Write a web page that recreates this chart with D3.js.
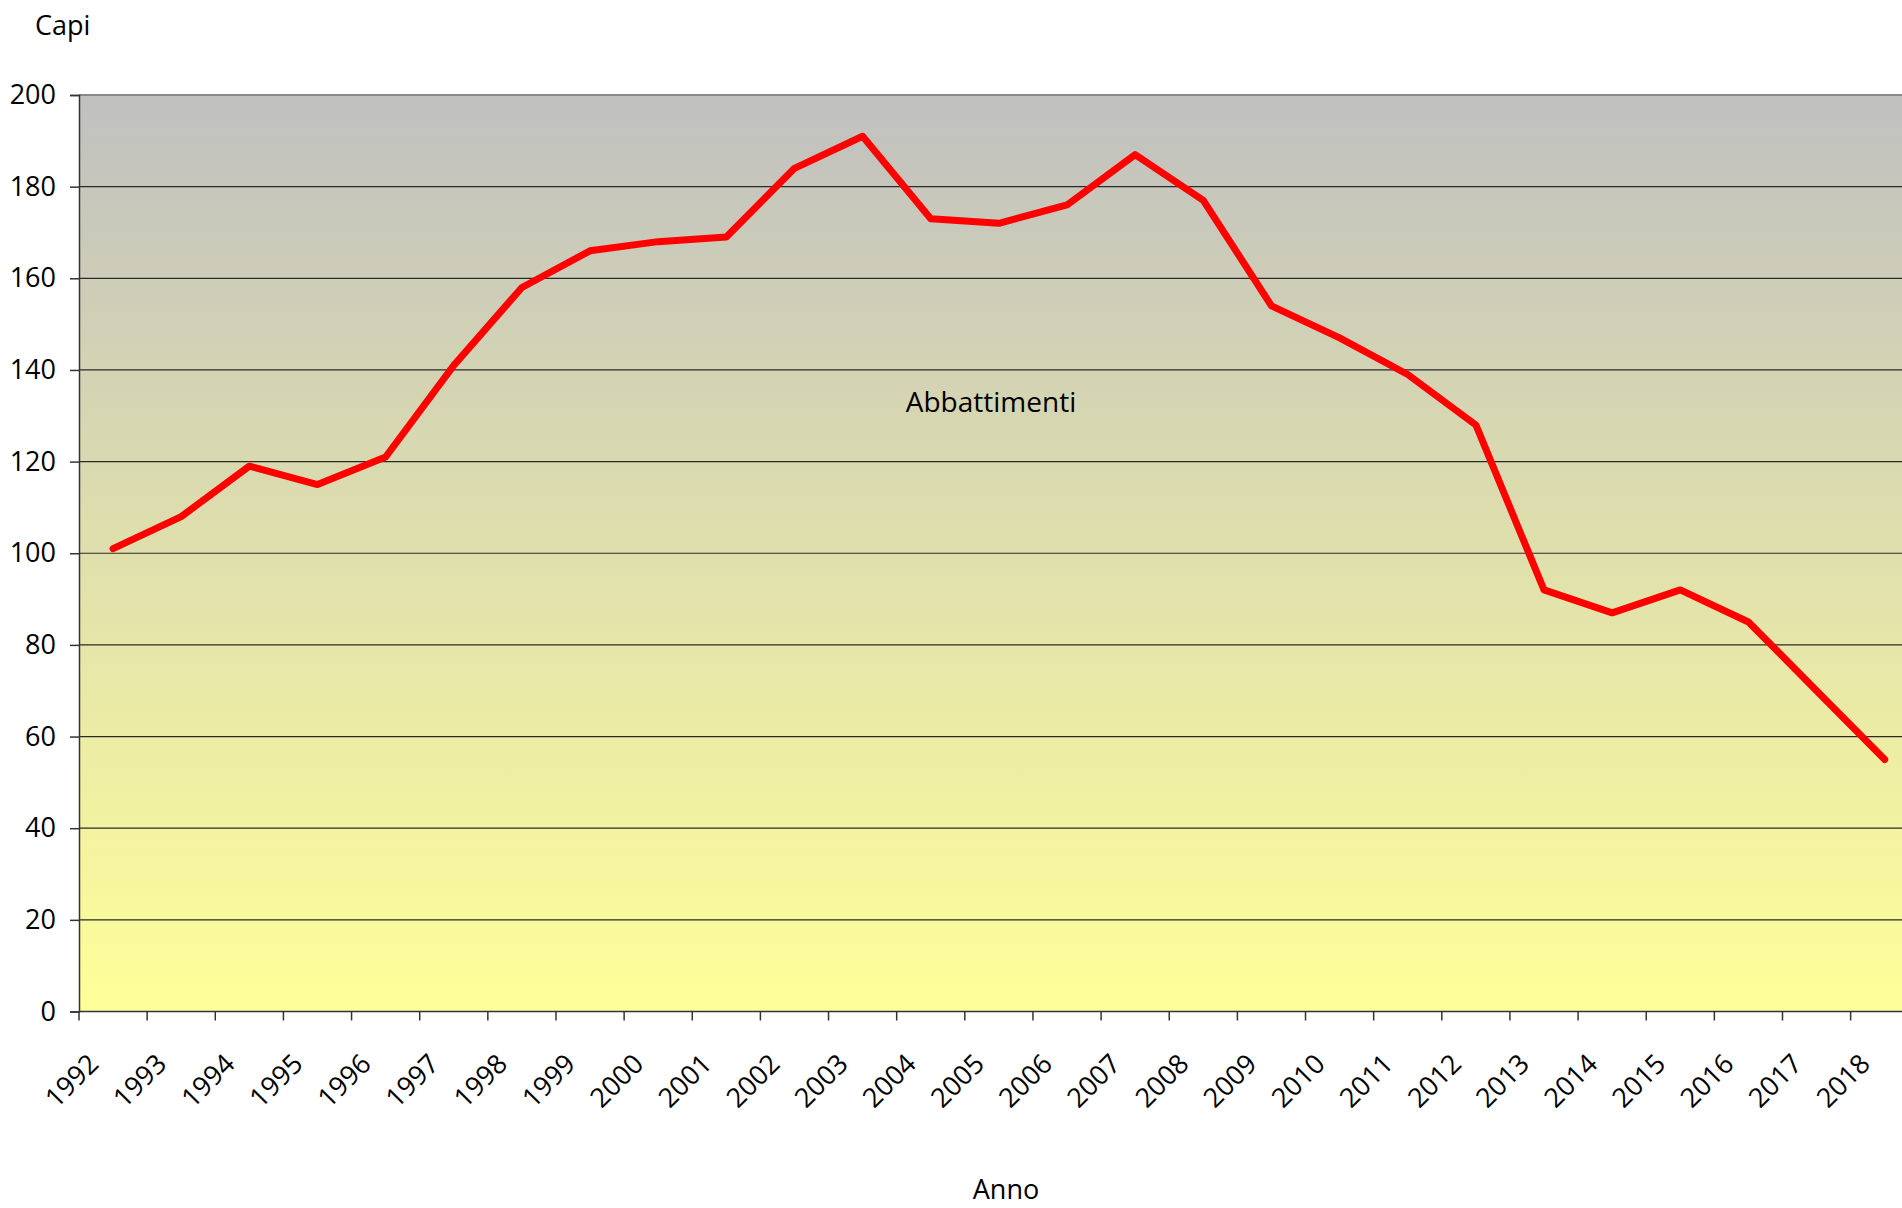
<!DOCTYPE html>
<html>
<head>
<meta charset="utf-8">
<script src="https://cdn.jsdelivr.net/npm/d3@7"></script>
<style>
  body { margin: 0; background: #fff; }
  svg { display: block; }
  text { font-family: "Open Sans", "DejaVu Sans", sans-serif; fill: #000; }
</style>
</head>
<body>
<svg width="1902" height="1208"></svg>
<script>
// data
var years = ["1992", "1993", "1994", "1995", "1996", "1997", "1998", "1999", "2000",
    "2001", "2002", "2003", "2004", "2005", "2006", "2007", "2008", "2009", "2010",
    "2011", "2012", "2013", "2014", "2015", "2016", "2017", "2018"];
var abbattimenti = [101, 108, 119, 115, 121, 141, 158, 166, 168, 169, 184, 191, 173,
    172, 176, 187, 177, 154, 147, 139, 128, 92, 87, 92, 85, 70, 55];
var yTicks = [0, 20, 40, 60, 80, 100, 120, 140, 160, 180, 200];

var margin = { top: 95, left: 79 };
var plotW = 27 * 68.14, plotH = 916.5;

var svg = d3.select("svg");

var defs = svg.append("defs");
var grad = defs.append("linearGradient")
    .attr("id", "bg").attr("x1", 0).attr("y1", 0).attr("x2", 0).attr("y2", 1);
grad.append("stop").attr("offset", "0%").attr("stop-color", "#c0c0c0");
grad.append("stop").attr("offset", "100%").attr("stop-color", "#ffff99");

var g = svg.append("g")
    .attr("transform", "translate(" + margin.left + "," + margin.top + ")");

var x = d3.scaleBand().domain(years).range([0, plotW]).padding(0);
var y = d3.scaleLinear().domain([0, 200]).range([plotH, 0]);

g.append("rect")
    .attr("x", 0).attr("y", 0)
    .attr("width", plotW).attr("height", plotH)
    .attr("fill", "url(#bg)");

// gridlines
g.selectAll(".grid")
    .data(yTicks.filter(function (d) { return d > 0 && d < 200; }))
    .enter().append("line")
    .attr("class", "grid")
    .attr("x1", 0).attr("x2", plotW)
    .attr("y1", function (d) { return y(d); })
    .attr("y2", function (d) { return y(d); })
    .attr("stroke", "#2a2a2a").attr("stroke-width", 1.2);

// top border
g.append("line")
    .attr("x1", 0).attr("x2", plotW).attr("y1", 0).attr("y2", 0)
    .attr("stroke", "#888").attr("stroke-width", 2);

// y axis
var yAxis = d3.axisLeft(y).tickValues(yTicks).tickSize(9).tickPadding(14);
var ya = g.append("g").call(yAxis);
ya.select(".domain").attr("stroke", "#333").attr("stroke-width", 1.5);
ya.selectAll(".tick line").attr("stroke", "#333").attr("stroke-width", 1.5);
ya.selectAll("text").style("font-size", "27px").attr("fill", "#000");

// x axis: ticks between categories
var edges = years.map(function (d) { return x(d); });
var xa = g.append("g").attr("transform", "translate(0," + plotH + ")");
xa.append("line")
    .attr("x1", 0).attr("x2", plotW)
    .attr("stroke", "#333").attr("stroke-width", 1.5);
xa.selectAll(".xtick")
    .data(edges)
    .enter().append("line")
    .attr("class", "xtick")
    .attr("x1", function (d) { return d; }).attr("x2", function (d) { return d; })
    .attr("y1", 0).attr("y2", 9)
    .attr("stroke", "#333").attr("stroke-width", 1.5);
xa.selectAll(".xlabel")
    .data(years)
    .enter().append("text")
    .attr("class", "xlabel")
    .attr("text-anchor", "end")
    .style("font-size", "27px")
    .attr("transform", function (d) {
        return "translate(" + (x(d) + x.bandwidth() / 2 - 13) + ",54) rotate(-45)";
    })
    .text(function (d) { return d; });

// series
var line = d3.line()
    .x(function (d, i) { return x(years[i]) + x.bandwidth() / 2; })
    .y(function (d) { return y(d); });

g.append("path")
    .datum(abbattimenti)
    .attr("d", line)
    .attr("fill", "none")
    .attr("stroke", "#ff0000")
    .attr("stroke-width", 7)
    .attr("stroke-linejoin", "round")
    .attr("stroke-linecap", "round");

// labels
svg.append("text").attr("x", 35).attr("y", 35)
    .style("font-size", "27px").text("Capi");

svg.append("text").attr("x", 991).attr("y", 412)
    .attr("text-anchor", "middle")
    .style("font-size", "28px").text("Abbattimenti");

svg.append("text").attr("x", 1006).attr("y", 1199)
    .attr("text-anchor", "middle")
    .style("font-size", "27px").text("Anno");
</script>
</body>
</html>
